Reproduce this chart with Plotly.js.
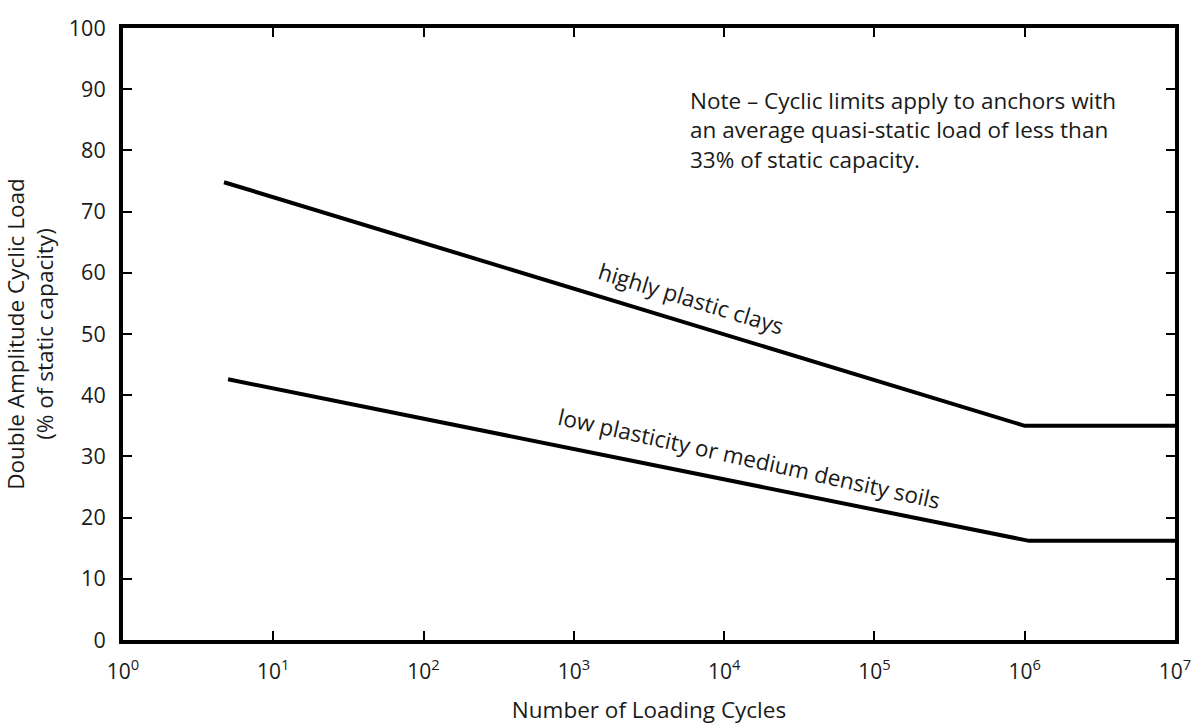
<!DOCTYPE html>
<html>
<head>
<meta charset="utf-8">
<script src="https://cdn.plot.ly/plotly-3.0.1.min.js"></script>
<style>html,body{margin:0;padding:0;background:#fff;}#chart{width:1196px;height:725px;}</style>
</head>
<body>
<div id="chart"></div>
<script>
// Data
const highClayCycles = [4.7, 1e6, 1e7];
const highClayLoad = [74.8, 35.0, 35.0];
const lowPlasticityCycles = [5.0, 1.07e6, 1e7];
const lowPlasticityLoad = [42.6, 16.2, 16.2];

const xTickVals = [1, 10, 100, 1000, 1e4, 1e5, 1e6, 1e7];
const xTickText = ['10<sup>0</sup>', '10<sup>1</sup>', '10<sup>2</sup>', '10<sup>3</sup>', '10<sup>4</sup>', '10<sup>5</sup>', '10<sup>6</sup>', '10<sup>7</sup>'];
const yTickVals = [0, 10, 20, 30, 40, 50, 60, 70, 80, 90, 100];

const FONT = 'Open Sans, sans-serif';
const TXT = '#1a1a1a';
const FS = 22.5;

const traces = [
  {x: highClayCycles, y: highClayLoad, type: 'scatter', mode: 'lines',
   line: {color: '#000', width: 4}, hoverinfo: 'skip', showlegend: false},
  {x: lowPlasticityCycles, y: lowPlasticityLoad, type: 'scatter', mode: 'lines',
   line: {color: '#000', width: 4}, hoverinfo: 'skip', showlegend: false}
];

const layout = {
  width: 1196, height: 725,
  paper_bgcolor: '#fff', plot_bgcolor: '#fff',
  margin: {l: 123, r: 21, t: 28, b: 85},
  font: {family: FONT, color: TXT, size: FS},
  xaxis: {
    type: 'log', range: [0, 7],
    tickvals: xTickVals, ticktext: xTickText,
    showgrid: false, zeroline: false,
    showline: true, linewidth: 4, linecolor: '#000', mirror: 'ticks',
    ticks: 'inside', ticklen: 9, tickwidth: 2, tickcolor: '#000',
    ticklabelstandoff: 10,
    tickfont: {family: FONT, size: 21, color: TXT},
    title: {text: 'Number of Loading Cycles', font: {family: FONT, size: FS, color: TXT}, standoff: 21}
  },
  yaxis: {
    range: [0, 100], tickvals: yTickVals,
    showgrid: false, zeroline: false,
    showline: true, linewidth: 4, linecolor: '#000', mirror: 'ticks',
    ticks: 'inside', ticklen: 9, tickwidth: 2, tickcolor: '#000',
    ticklabelstandoff: 9,
    tickfont: {family: FONT, size: 21.5, color: TXT},
    title: {text: 'Double Amplitude Cyclic Load<br>(% of static capacity)', font: {family: FONT, size: FS, color: TXT}, standoff: 10}
  },
  annotations: [
    {text: 'Note – Cyclic limits apply to anchors with<br>an average quasi-static load of less than<br>33% of static capacity.',
     x: 0.537, y: 0.91, xref: 'paper', yref: 'paper', xanchor: 'left', yanchor: 'top',
     showarrow: false, align: 'left', font: {family: FONT, size: FS, color: TXT}},
    {text: 'highly plastic clays', x: Math.log10(6.0e3), y: 55.8, xref: 'x', yref: 'y',
     textangle: 17, showarrow: false, font: {family: FONT, size: FS, color: TXT}},
    {text: 'low plasticity or medium density soils', x: Math.log10(1.48e4), y: 29.7, xref: 'x', yref: 'y',
     textangle: 12.5, showarrow: false, font: {family: FONT, size: FS, color: TXT}}
  ]
};

Plotly.newPlot('chart', traces, layout, {staticPlot: true, displayModeBar: false});
</script>
</body>
</html>
